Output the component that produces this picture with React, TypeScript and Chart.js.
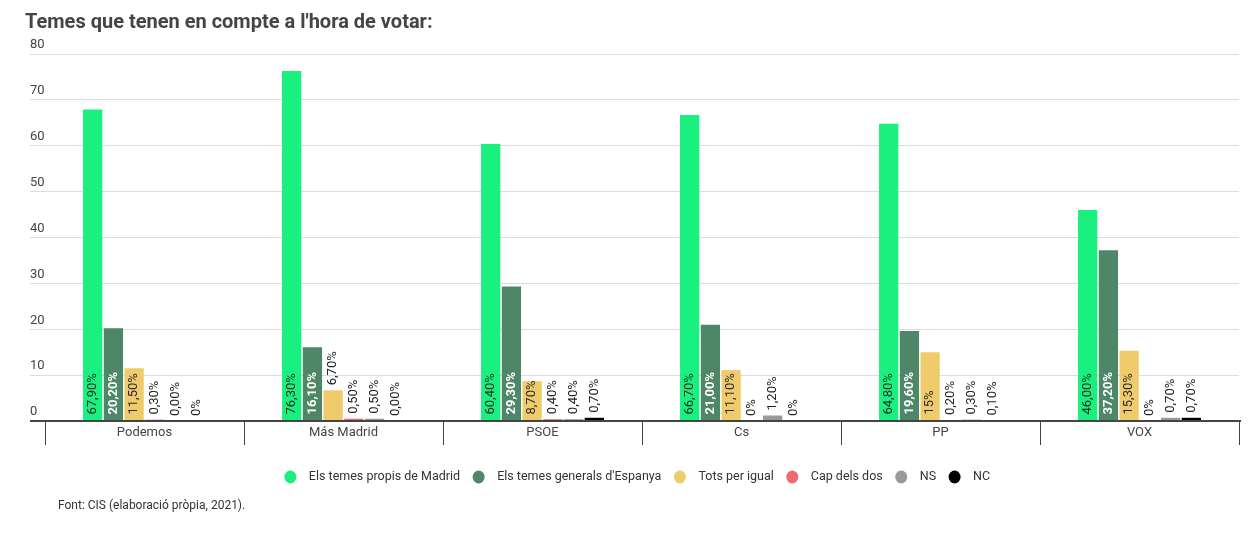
import { Chart, registerables } from 'chart.js';
import { useEffect, useRef } from 'react';

Chart.register(...registerables);

const categories = ['Podemos', 'Más Madrid', 'PSOE', 'Cs', 'PP', 'VOX'];

const madrid = [67.9, 76.3, 60.4, 66.7, 64.8, 46.0];
const espanya = [20.2, 16.1, 29.3, 21.0, 19.6, 37.2];
const totsIgual = [11.5, 6.7, 8.7, 11.1, 15, 15.3];
const capDelsDos = [0.3, 0.5, 0.4, 0, 0.2, 0];
const ns = [0, 0.5, 0.4, 1.2, 0.3, 0.7];
const nc = [0, 0, 0.7, 0, 0.1, 0.7];

const madridLabels = ['67,90%', '76,30%', '60,40%', '66,70%', '64,80%', '46,00%'];
const espanyaLabels = ['20,20%', '16,10%', '29,30%', '21,00%', '19,60%', '37,20%'];
const totsLabels = ['11,50%', '6,70%', '8,70%', '11,10%', '15%', '15,30%'];
const capLabels = ['0,30%', '0,50%', '0,40%', '0%', '0,20%', '0%'];
const nsLabels = ['0,00%', '0,50%', '0,40%', '1,20%', '0,30%', '0,70%'];
const ncLabels = ['0%', '0,00%', '0,70%', '0%', '0,10%', '0,70%'];

const yTicks = [0, 10, 20, 30, 40, 50, 60, 70, 80];

const title = "Temes que tenen en compte a l'hora de votar:";
const source = 'Font: CIS (elaboració pròpia, 2021).';

const FONT = 'Roboto, "Noto Sans", sans-serif';

// text colour inside each series' bars
const insideColors = ['#1c2e24', '#ffffff', '#2a2a2a', '#222', '#222', '#222'];
const allLabels = [madridLabels, espanyaLabels, totsLabels, capLabels, nsLabels, ncLabels];

const decorPlugin = {
  id: 'decor',
  afterDraw(chart: any) {
    const ctx = chart.ctx;
    const y = chart.scales.y;
    const x = chart.scales.x;
    const area = chart.chartArea;
    ctx.save();

    // title
    ctx.fillStyle = '#444';
    ctx.font = `bold 20px ${FONT}`;
    ctx.textAlign = 'left';
    ctx.textBaseline = 'middle';
    ctx.fillText(title, 25, 23);

    // y labels sit above the gridlines
    ctx.font = `13px ${FONT}`;
    ctx.fillStyle = '#444';
    yTicks.forEach((v) => {
      ctx.fillText(String(v), 30, y.getPixelForValue(v) - 9);
    });

    // category labels between the separator ticks
    ctx.textAlign = 'center';
    categories.forEach((c, i) => {
      ctx.fillText(c, x.getPixelForTick(i), area.bottom + 12);
    });
    ctx.textAlign = 'left';

    // baseline
    ctx.strokeStyle = '#444';
    ctx.lineWidth = 2;
    ctx.beginPath();
    const y0 = y.getPixelForValue(0);
    ctx.moveTo(30, y0);
    ctx.lineTo(area.right + 2, y0);
    ctx.stroke();

    // legend
    ctx.font = `12.5px ${FONT}`;
    const items = chart.data.datasets.map((d: any) => ({
      label: d.label,
      color: d.backgroundColor,
      w: ctx.measureText(d.label).width,
    }));
    const gap = 12;
    const total =
      items.reduce((s: number, it: any) => s + 13 + 12 + it.w, 0) + gap * (items.length - 1);
    let lx = 637 - total / 2;
    const ly = 477;
    items.forEach((it: any) => {
      ctx.fillStyle = it.color;
      ctx.beginPath();
      ctx.ellipse(lx + 6.5, ly, 6, 6.5, 0, 0, Math.PI * 2);
      ctx.fill();
      ctx.fillStyle = '#333';
      ctx.fillText(it.label, lx + 25, ly);
      lx += 25 + it.w + gap;
    });

    // source
    ctx.fillStyle = '#333';
    ctx.font = `12px ${FONT}`;
    ctx.fillText(source, 58, 506);
    ctx.restore();
  },
};

const barLabelPlugin = {
  id: 'barLabels',
  afterDatasetsDraw(chart: any) {
    const ctx = chart.ctx;
    ctx.save();
    chart.data.datasets.forEach((_ds: any, di: number) => {
      const meta = chart.getDatasetMeta(di);
      meta.data.forEach((bar: any, i: number) => {
        const text = allLabels[di][i];
        const { x, y, base } = bar.getProps(['x', 'y', 'base'], true);
        const h = base - y;
        const white = insideColors[di] === '#ffffff';
        ctx.font = `${white ? 'bold ' : ''}13px ${FONT}`;
        const w = ctx.measureText(text).width;
        const inside = w + 3 < h;
        ctx.save();
        ctx.translate(x, inside ? base - 6 : y - 5);
        ctx.rotate(-Math.PI / 2);
        ctx.textAlign = 'left';
        ctx.textBaseline = 'middle';
        ctx.fillStyle = inside ? insideColors[di] : '#222';
        ctx.fillText(text, 0, 0);
        ctx.restore();
      });
    });
    ctx.restore();
  },
};

function App() {
  const canvas = useRef<HTMLCanvasElement | null>(null);

  useEffect(() => {
    if (!canvas.current) return;
    document.body.style.margin = '0';

    const chart = new Chart(canvas.current, {
      type: 'bar',
      data: {
        labels: categories,
        datasets: [
          { label: 'Els temes propis de Madrid', data: madrid, backgroundColor: '#19f07f' },
          { label: "Els temes generals d'Espanya", data: espanya, backgroundColor: '#4d8767' },
          { label: 'Tots per igual', data: totsIgual, backgroundColor: '#efcb6b' },
          { label: 'Cap dels dos', data: capDelsDos, backgroundColor: '#ef6b6e' },
          { label: 'NS', data: ns, backgroundColor: '#999999' },
          { label: 'NC', data: nc, backgroundColor: '#000000' },
        ],
      },
      options: {
        responsive: false,
        animation: false,
        devicePixelRatio: 1,
        datasets: {
          bar: {
            categoryPercentage: 0.625,
            barPercentage: 0.93,
          },
        },
        layout: {
          padding: { top: 54, left: 30, right: 10, bottom: 88 },
        },
        plugins: {
          legend: { display: false },
          tooltip: { enabled: false },
        },
        scales: {
          x: {
            border: { display: false },
            grid: {
              offset: true,
              drawOnChartArea: false,
              tickLength: 24,
              color: '#444',
            },
            ticks: { display: false },
          },
          y: {
            min: 0,
            max: 80,
            border: { display: false },
            grid: {
              color: '#dcdcdc',
              tickLength: 15,
            },
            ticks: { display: false, stepSize: 10 },
          },
        },
      },
      plugins: [barLabelPlugin, decorPlugin],
    });

    return () => chart.destroy();
  }, [canvas]);

  return <canvas ref={canvas} width={1249} height={533}></canvas>;
}

export default App;
